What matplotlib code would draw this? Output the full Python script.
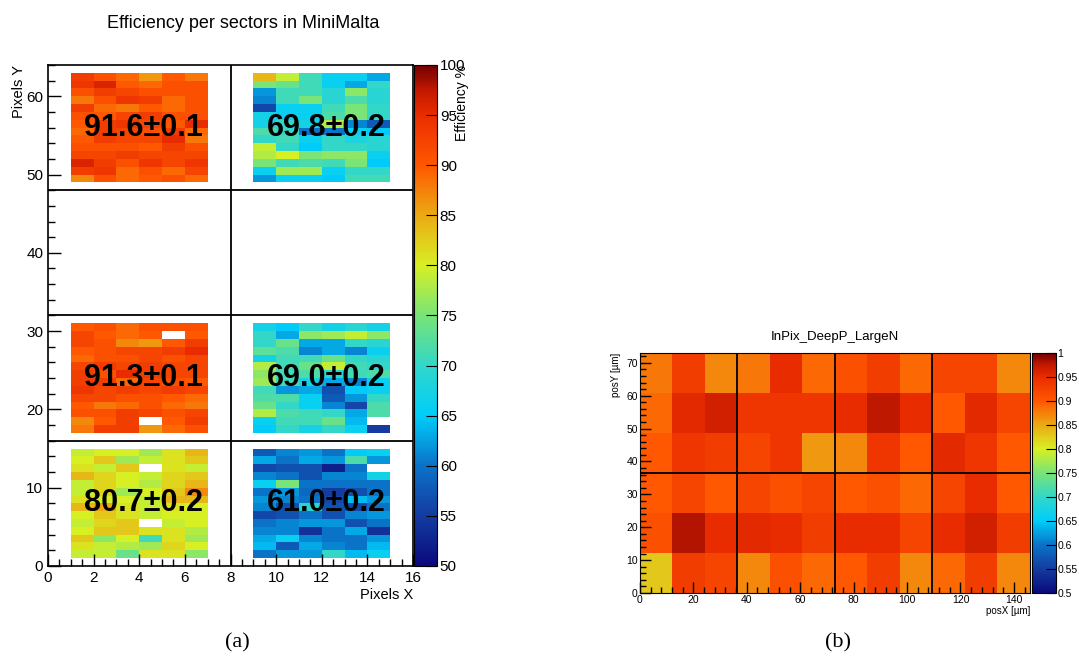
import numpy as np
import matplotlib
matplotlib.use("Agg")
import matplotlib.pyplot as plt
from matplotlib.colors import LinearSegmentedColormap
from matplotlib.ticker import MultipleLocator

plt.rcParams["font.family"] = ["Liberation Sans", "DejaVu Sans"]

# ---- (a) MiniMalta sectors: efficiency [%] per pixel, rows listed top -> bottom ----
nan = np.nan
sector_top_left = [
    [93, 91, 89, 86, 90, 88],
    [94, 96, 90, 89, 91, 91],
    [91, 93, 92, 91, 91, 91],
    [88, 91, 94, 93, 89, 91],
    [93, 89, 88, 90, 89, 91],
    [91, 90, 92, 93, 91, 91],
    [90, 93, 94, 92, 90, 95],
    [89, 93, 92, 91, 93, 89],
    [90, 93, 92, 92, 95, 88],
    [91, 91, 91, 90, 93, 91],
    [92, 92, 93, 92, 92, 92],
    [96, 93, 91, 94, 92, 94],
    [93, 94, 89, 91, 89, 92],
    [87, 91, 89, 90, 91, 89],
]
sector_top_right = [
    [84, 79, 71, 66, 66, 63],
    [75, 74, 71, 66, 63, 70],
    [62, 71, 71, 69, 76, 69],
    [61, 71, 75, 69, 72, 69],
    [56, 66, 66, 71, 75, 70],
    [67, 66, 66, 72, 75, 70],
    [67, 70, 67, 78, 61, 58],
    [72, 70, 60, 60, 66, 65],
    [70, 71, 66, 70, 68, 69],
    [79, 70, 65, 70, 70, 69],
    [78, 80, 75, 76, 76, 66],
    [75, 71, 72, 71, 75, 65],
    [66, 77, 77, 66, 70, 70],
    [62, 66, 66, 65, 71, 71],
]
sector_mid_left = [
    [90, 91, 89, 91, 91, 91],
    [92, 90, 89, 90, nan, 90],
    [92, 91, 87, 86, 90, 93],
    [90, 91, 92, 92, 93, 95],
    [89, 91, 91, 92, 91, 92],
    [92, 93, 92, 93, 92, 92],
    [93, 91, 95, 93, 92, 92],
    [93, 93, 89, 92, 91, 90],
    [94, 92, 93, 92, 93, 92],
    [92, 92, 91, 91, 90, 89],
    [90, 88, 89, 91, 89, 88],
    [91, 91, 93, 92, 91, 92],
    [87, 90, 93, nan, 90, 93],
    [88, 93, 93, 86, 89, 91],
]
sector_mid_right = [
    [67, 65, 70, 67, 69, 67],
    [70, 63, 76, 77, 79, 76],
    [70, 74, 63, 63, 70, 69],
    [73, 72, 61, 63, 61, 66],
    [67, 71, 71, 74, 70, 69],
    [78, 71, 74, 79, 71, 70],
    [76, 71, 72, 69, 71, 72],
    [77, 71, 67, 63, 61, 66],
    [71, 62, 63, 57, 65, 66],
    [72, 72, 66, 58, 62, 70],
    [74, 70, 66, 61, 56, 72],
    [78, 72, 71, 70, 63, 72],
    [66, 71, 71, 74, 64, nan],
    [65, 70, 67, 70, 66, 55],
]
sector_bot_left = [
    [79, 80, 80, 77, 81, 84],
    [80, 83, 77, 79, 81, 83],
    [81, 79, 83, nan, 81, 79],
    [84, 82, 80, 79, 82, 83],
    [79, 82, 80, 78, 82, 84],
    [79, 82, 77, 80, 83, 87],
    [81, 80, 80, 79, 84, 84],
    [84, 85, 81, 79, 81, 80],
    [80, 83, 81, 79, 80, 80],
    [79, 82, 83, nan, 79, 80],
    [80, 83, 83, 81, 81, 78],
    [83, 76, 80, 71, 81, 77],
    [81, 79, 78, 77, 82, 80],
    [79, 79, 74, 81, 81, 76],
]
sector_bot_right = [
    [58, 61, 62, 60, 65, 66],
    [63, 60, 63, 62, 72, 62],
    [56, 57, 57, 52, 60, nan],
    [61, 60, 57, 61, 61, 67],
    [66, 75, 60, 60, 60, 60],
    [60, 62, 59, 55, 57, 60],
    [62, 61, 60, 56, 64, 62],
    [61, 57, 69, 57, 56, 60],
    [56, 57, 60, 57, 61, 62],
    [60, 61, 62, 62, 57, 60],
    [61, 61, 54, 60, 63, 54],
    [63, 66, 61, 60, 60, 62],
    [64, 58, 63, 61, 60, 64],
    [60, 62, 62, 70, 64, 66],
]
sector_labels = ["91.6±0.1", "69.8±0.2", "91.3±0.1", "69.0±0.2", "80.7±0.2", "61.0±0.2"]

# ---- (b) in-pixel efficiency, rows listed top -> bottom ----
inpix_eff = [
    [0.88, 0.93, 0.87, 0.88, 0.95, 0.89, 0.91, 0.93, 0.89, 0.92, 0.92, 0.87],
    [0.89, 0.955, 0.965, 0.94, 0.94, 0.94, 0.95, 0.975, 0.95, 0.90, 0.955, 0.92],
    [0.90, 0.94, 0.93, 0.92, 0.94, 0.86, 0.87, 0.94, 0.90, 0.955, 0.94, 0.90],
    [0.90, 0.92, 0.90, 0.92, 0.91, 0.92, 0.90, 0.91, 0.89, 0.92, 0.95, 0.90],
    [0.91, 0.98, 0.95, 0.955, 0.95, 0.93, 0.95, 0.95, 0.92, 0.95, 0.965, 0.93],
    [0.83, 0.93, 0.92, 0.87, 0.91, 0.89, 0.90, 0.93, 0.87, 0.89, 0.93, 0.87],
]

# palette similar to the ROOT one in the picture (stops at 0, 0.1, ..., 0.9, 0.95, 1)
pal_stops = [0.0, 0.1, 0.2, 0.3, 0.4, 0.5, 0.6, 0.7, 0.8, 0.9, 0.95, 1.0]
pal = [(10, 10, 125), (20, 60, 160), (10, 115, 200), (0, 205, 250), (50, 215, 200),
       (120, 228, 120), (215, 240, 35), (235, 170, 20), (255, 88, 0), (235, 45, 0),
       (195, 25, 0), (120, 0, 0)]
cmap = LinearSegmentedColormap.from_list(
    "rootpal", [(s, np.array(c) / 255) for s, c in zip(pal_stops, pal)], N=256)
cmap.set_bad("white")

fig = plt.figure(figsize=(10.79, 6.66), dpi=100)

# ---------------- panel (a) ----------------
eff = np.full((64, 16), np.nan)
sectors = [(sector_top_left, 1, 49), (sector_top_right, 9, 49),
           (sector_mid_left, 1, 17), (sector_mid_right, 9, 17),
           (sector_bot_left, 1, 1), (sector_bot_right, 9, 1)]
for vals, x0, y0 in sectors:
    arr = np.array(vals, dtype=float)[::-1]
    eff[y0:y0 + arr.shape[0], x0:x0 + arr.shape[1]] = arr

ax = fig.add_axes([0.0445, 0.1502, 0.3383, 0.7523])
mesh = ax.pcolormesh(np.arange(17), np.arange(65), np.ma.masked_invalid(eff),
                     cmap=cmap, vmin=50, vmax=100)
ax.set_xlim(0, 16)
ax.set_ylim(0, 64)
ax.axvline(8, color="black", lw=1.3)
for yl in (16, 32, 48):
    ax.axhline(yl, color="black", lw=1.3)

text_pos = [(4.2, 56), (12.2, 56), (4.2, 24), (12.2, 24), (4.2, 8), (12.2, 8)]
for (tx, ty), lab in zip(text_pos, sector_labels):
    ax.text(tx, ty, lab, ha="center", va="center", fontsize=22, fontweight="bold")

ax.xaxis.set_major_locator(MultipleLocator(2))
ax.xaxis.set_minor_locator(MultipleLocator(0.5))
ax.yaxis.set_major_locator(MultipleLocator(10))
ax.yaxis.set_minor_locator(MultipleLocator(2))
ax.tick_params(which="both", direction="in", top=False, right=False, labelsize=11)
ax.tick_params(which="major", length=9, width=1)
ax.tick_params(which="minor", length=5, width=1)
for s in ax.spines.values():
    s.set_linewidth(1.2)
ax.set_xlabel("Pixels X", fontsize=10.5, loc="right", labelpad=2)
ax.set_ylabel("Pixels Y", fontsize=10.5, loc="top", labelpad=0)

cax = fig.add_axes([0.3837, 0.1502, 0.0213, 0.7523])
cb = fig.colorbar(mesh, cax=cax, ticks=np.arange(50, 101, 5))
cb.ax.tick_params(direction="in", length=8, labelsize=11, pad=2)
cb.outline.set_linewidth(0.8)
fig.text(0.4285, 0.9025, "Efficiency %", rotation=90, ha="center", va="top", fontsize=10)
fig.text(0.2252, 0.964, "Efficiency per sectors in MiniMalta", ha="center", va="center", fontsize=13)

# ---------------- panel (b) ----------------
pitch = 146 / 12
xe = np.arange(13) * pitch
ye = np.arange(7) * pitch
bx = fig.add_axes([0.5931, 0.1096, 0.3614, 0.3604])
mesh2 = bx.pcolormesh(xe, ye, np.array(inpix_eff)[::-1], cmap=cmap, vmin=0.5, vmax=1.0)
bx.set_xlim(0, 146)
bx.set_ylim(0, 73)
for xl in (36.5, 73, 109.5):
    bx.axvline(xl, color="black", lw=1.3)
bx.axhline(36.5, color="black", lw=1.3)
bx.xaxis.set_major_locator(MultipleLocator(20))
bx.xaxis.set_minor_locator(MultipleLocator(4))
bx.yaxis.set_major_locator(MultipleLocator(10))
bx.yaxis.set_minor_locator(MultipleLocator(2))
bx.tick_params(which="both", direction="in", top=False, right=False, labelsize=7.5, pad=1.5)
bx.tick_params(which="major", length=8, width=1)
bx.tick_params(which="minor", length=4, width=1)
bx.set_xlabel("posX [µm]", fontsize=7, loc="right", labelpad=1)
bx.set_ylabel("posY [µm]", fontsize=7, loc="top", labelpad=4)
bx.set_title("InPix_DeepP_LargeN", fontsize=9.5, pad=9)

cbx = fig.add_axes([0.9564, 0.1096, 0.0222, 0.3604])
cb2 = fig.colorbar(mesh2, cax=cbx, ticks=np.arange(0.5, 1.001, 0.05))
cb2.ax.set_yticklabels(["0.5", "0.55", "0.6", "0.65", "0.7", "0.75", "0.8",
                        "0.85", "0.9", "0.95", "1"])
cb2.ax.tick_params(direction="in", length=7, labelsize=7.5, pad=1)
cb2.outline.set_linewidth(0.8)

fig.text(0.2196, 0.02, "(a)", ha="center", va="bottom", fontsize=16, family="Liberation Serif")
fig.text(0.7767, 0.02, "(b)", ha="center", va="bottom", fontsize=16, family="Liberation Serif")

fig.savefig("out.png", dpi=100)
